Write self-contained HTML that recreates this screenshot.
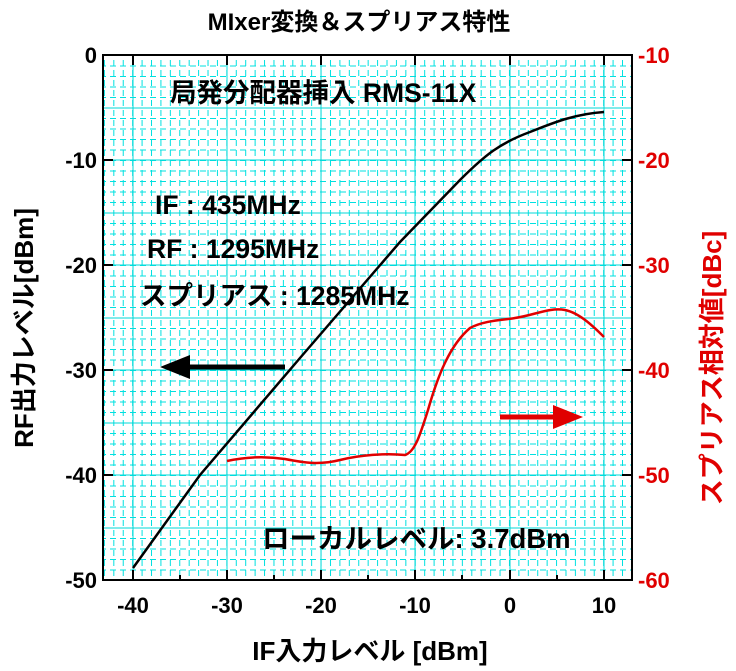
<!DOCTYPE html><html><head><style>body{margin:0;background:#fff}svg{display:block;font-family:"Liberation Sans","Noto Sans CJK JP",sans-serif;font-weight:bold}</style></head><body>
<svg width="736" height="671" xmlns="http://www.w3.org/2000/svg">
<defs>
<pattern id="mx" x="103.9" y="0" width="9.42" height="671" patternUnits="userSpaceOnUse"><line x1="0.5" y1="0" x2="0.5" y2="671" stroke="#00e0e0" stroke-width="1" stroke-dasharray="6,4"/></pattern>
<pattern id="my" x="0" y="55" width="736" height="10.5" patternUnits="userSpaceOnUse"><line x1="0" y1="0.5" x2="736" y2="0.5" stroke="#00e0e0" stroke-width="1" stroke-dasharray="6,4"/></pattern>
</defs>
<rect x="103" y="55" width="529" height="525" fill="url(#mx)"/>
<rect x="103" y="55" width="529" height="525" fill="url(#my)"/>
<g stroke="#00d8d8" stroke-width="1">
<line x1="133" y1="55" x2="133" y2="580"/><line x1="227" y1="55" x2="227" y2="580"/><line x1="321" y1="55" x2="321" y2="580"/><line x1="415" y1="55" x2="415" y2="580"/><line x1="510" y1="55" x2="510" y2="580"/><line x1="604" y1="55" x2="604" y2="580"/>
<line x1="103" y1="108" x2="632" y2="108"/><line x1="103" y1="160" x2="632" y2="160"/><line x1="103" y1="213" x2="632" y2="213"/><line x1="103" y1="265" x2="632" y2="265"/><line x1="103" y1="318" x2="632" y2="318"/><line x1="103" y1="370" x2="632" y2="370"/><line x1="103" y1="423" x2="632" y2="423"/><line x1="103" y1="475" x2="632" y2="475"/><line x1="103" y1="528" x2="632" y2="528"/>
</g>
<rect x="103" y="55" width="529" height="525" fill="none" stroke="#000" stroke-width="2"/>
<g stroke="#000" stroke-width="2">
<path d="M133 580v-10M227 580v-10M321 580v-10M415 580v-10M510 580v-10M604 580v-10M180 580v-5M274 580v-5M368 580v-5M462 580v-5M557 580v-5"/>
<path d="M133 55v10M227 55v10M321 55v10M415 55v10M510 55v10M604 55v10"/>
<path d="M103 160h10M103 265h10M103 370h10M103 475h10"/>
<path d="M632 160h-10M632 265h-10M632 370h-10M632 475h-10"/>
</g>
<g font-size="22" text-anchor="middle">
<text x="133" y="613">-40</text><text x="227" y="613">-30</text><text x="321" y="613">-20</text><text x="415" y="613">-10</text><text x="510" y="613">0</text><text x="604" y="613">10</text>
</g>
<g font-size="22" text-anchor="end">
<text x="97" y="63">0</text><text x="97" y="168">-10</text><text x="97" y="273">-20</text><text x="97" y="378">-30</text><text x="97" y="483">-40</text><text x="97" y="588">-50</text>
</g>
<g font-size="22" fill="#e00000">
<text x="638" y="63">-10</text><text x="638" y="168">-20</text><text x="638" y="273">-30</text><text x="638" y="378">-40</text><text x="638" y="483">-50</text><text x="638" y="588">-60</text>
</g>
<text x="359" y="30" font-size="24" text-anchor="middle">MIxer変換＆スプリアス特性</text>
<text x="370" y="660" font-size="26" text-anchor="middle">IF入力レベル [dBm]</text>
<text transform="translate(33,328) rotate(-90)" font-size="26" text-anchor="middle">RF出力レベル[dBm]</text>
<text transform="translate(721,368) rotate(-90)" font-size="26" text-anchor="middle" fill="#e00000">スプリアス相対値[dBc]</text>
<g font-size="26.5">
<text x="170" y="102">局発分配器挿入 RMS-11X</text>
<text x="155" y="214">IF : 435MHz</text>
<text x="147" y="258">RF : 1295MHz</text>
<text x="140" y="305">スプリアス : 1285MHz</text>
</g>
<text x="262" y="548" font-size="27.5">ローカルレベル: 3.7dBm</text>
<path d="M133 568 L200 475 L300 358 L400 242 L460 180 C485 155 500 143 530 132 C555 122 575 114 604 112" fill="none" stroke="#000" stroke-width="2.5"/>
<path d="M227 461 C245 457 265 456 285 459 C305 463 320 465 340 460 C360 455 385 453 405 455 C415 452 420 435 428 410 C438 375 450 345 470 328 C485 320 505 320 515 318 C535 315 550 307 565 310 C580 313 595 328 604 337" fill="none" stroke="#e00000" stroke-width="2.5"/>
<line x1="185" y1="367" x2="285" y2="367" stroke="#000" stroke-width="5"/>
<polygon points="160,367 190,355 190,379" fill="#000"/>
<line x1="500" y1="417" x2="560" y2="417" stroke="#e00000" stroke-width="5"/>
<polygon points="583,417 553,405 553,429" fill="#e00000"/>
</svg></body></html>
